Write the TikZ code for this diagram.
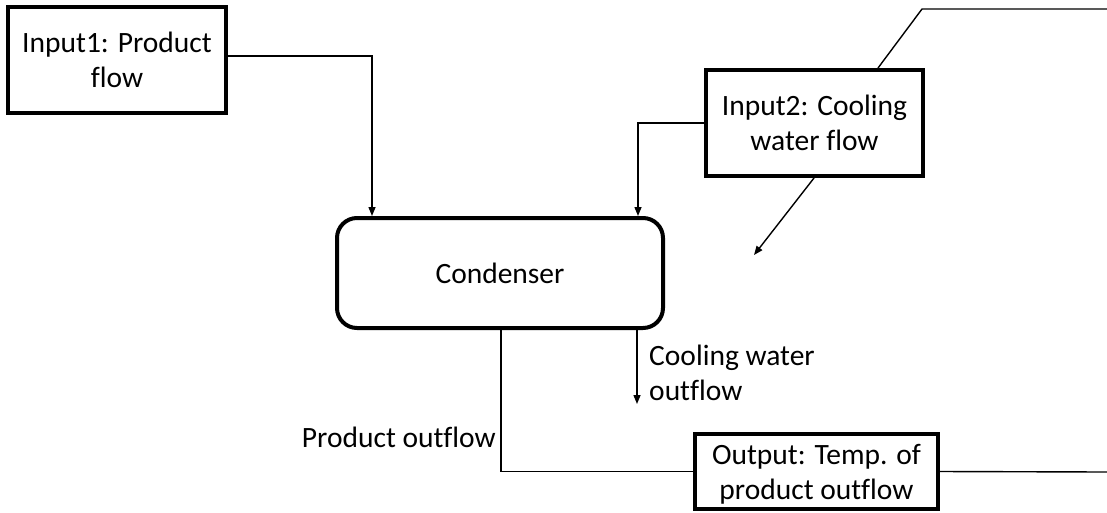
\documentclass[tikz,border=0pt]{standalone}
\usepackage{fontspec}
\setmainfont{Carlito}[Ligatures=NoCommon]
\usetikzlibrary{arrows.meta}
\begin{document}
\begin{tikzpicture}[x=1pt,y=-1pt,
  every node/.style={font=\fontsize{29.5}{35}\selectfont},
  blockbox/.style={draw, line width=4pt, align=center, inner sep=0pt},
  flow/.style={line width=1.4pt},
  flowarrow/.style={flow, -{Triangle[length=9pt,width=7pt]}},
  tag/.style={inner sep=0pt, align=left}]
\useasboundingbox (0,0) rectangle (1107,512);

% blocks
\node[blockbox, minimum width=218pt, minimum height=106pt, text depth=-3pt] (in1) at (117,60) {Input1: Product\\flow};
\node[blockbox, minimum width=217pt, minimum height=106pt, text depth=-3pt] (in2) at (814.5,123) {Input2: Cooling\\water flow};
\node[blockbox, rounded corners=20pt, minimum width=326pt, minimum height=110pt] (cond) at (500,273) {Condenser};
\node[blockbox, minimum width=243pt, minimum height=75pt, text depth=-3pt] (out) at (816.5,471.5) {Output: Temp. of\\product outflow};

% free ends
\coordinate (topbend) at (922,9);
\coordinate (topend) at (1107,9);
\coordinate (diagend) at (754,255);
\coordinate (cwend) at (637,404);
\coordinate (outend) at (1107,472);

% inputs to the condenser
\draw[flowarrow] ([yshift=4pt]in1.east) -| ([xshift=-128pt]cond.north);
\draw[flowarrow] (in2.west) -| ([xshift=138pt]cond.north);

% feedback around the cooling water block
\draw[flow] ([xshift=63.5pt]in2.north) -- (topbend) -- (topend);
\draw[flowarrow] ([xshift=-0.5pt]in2.south) -- (diagend);

% outflows
\draw[flowarrow] ([xshift=137pt]cond.south) -- (cwend);
\draw[flow] ([xshift=1pt]cond.south) |- (out.west);
\draw[flow] (out.east) -- (outend);

% labels
\node[tag, anchor=north west] (cwlabel) at (649,345) {Cooling water\\outflow};
\node[tag, anchor=east] (polabel) at (496,437) {Product outflow};
\end{tikzpicture}
\end{document}
